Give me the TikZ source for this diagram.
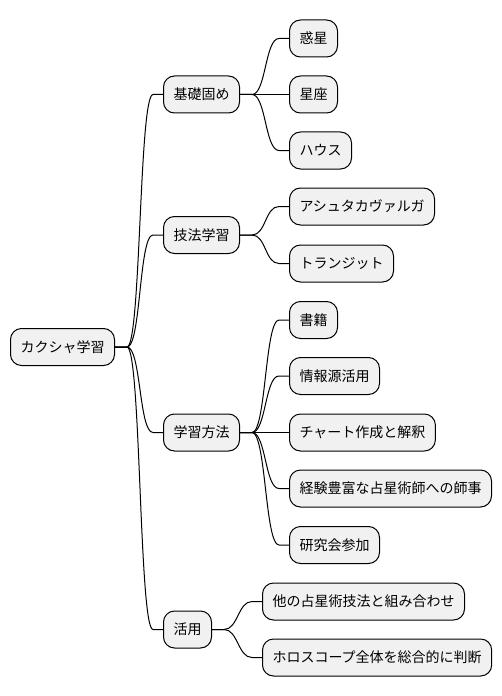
\documentclass[tikz,border=0pt]{standalone}
\usepackage{fontspec}
\setmainfont{Noto Sans CJK JP}
\usetikzlibrary{calc}
\definecolor{mmfill}{HTML}{F1F1F1}
\tikzset{
  mmnode/.style={draw=black, line width=1bp, fill=mmfill, rounded corners=11bp,
    minimum height=37bp, inner xsep=10bp, inner ysep=0pt,
    font=\fontsize{14bp}{16bp}\selectfont, anchor=west},
  mmlink/.style={line width=1bp, draw=black}
}
\newcommand\mmconnect[2]{\draw[mmlink] (#1.east) -- ++(12,0) .. controls +(14,0) and +(-14,0) .. ($(#2.west)+(-10,0)$) -- (#2.west);}
\begin{document}
\begin{tikzpicture}[x=1bp,y=-1bp]
\useasboundingbox (0,0) rectangle (502,696);
\node[mmnode] (root) at (10,347) {カクシャ学習};
\node[mmnode] (a1) at (163,94.5) {基礎固め};
\node[mmnode] (a2) at (163,235) {技法学習};
\node[mmnode] (a3) at (163,432.5) {学習方法};
\node[mmnode] (a4) at (163,629.5) {活用};
\node[mmnode] (b1) at (289,38.5) {惑星};
\node[mmnode] (b2) at (289,94.5) {星座};
\node[mmnode] (b3) at (289,150.5) {ハウス};
\node[mmnode] (b4) at (289,206.5) {アシュタカヴァルガ};
\node[mmnode] (b5) at (289,263.5) {トランジット};
\node[mmnode] (b6) at (289,320) {書籍};
\node[mmnode] (b7) at (289,376) {情報源活用};
\node[mmnode] (b8) at (289,432.5) {チャート作成と解釈};
\node[mmnode] (b9) at (289,488.5) {経験豊富な占星術師への師事};
\node[mmnode] (b10) at (289,545) {研究会参加};
\node[mmnode] (b11) at (262,601.5) {他の占星術技法と組み合わせ};
\node[mmnode] (b12) at (262,657.5) {ホロスコープ全体を総合的に判断};
\mmconnect{root}{a1}
\mmconnect{root}{a2}
\mmconnect{root}{a3}
\mmconnect{root}{a4}
\mmconnect{a1}{b1}
\mmconnect{a1}{b2}
\mmconnect{a1}{b3}
\mmconnect{a2}{b4}
\mmconnect{a2}{b5}
\mmconnect{a3}{b6}
\mmconnect{a3}{b7}
\mmconnect{a3}{b8}
\mmconnect{a3}{b9}
\mmconnect{a3}{b10}
\mmconnect{a4}{b11}
\mmconnect{a4}{b12}
\end{tikzpicture}
\end{document}
